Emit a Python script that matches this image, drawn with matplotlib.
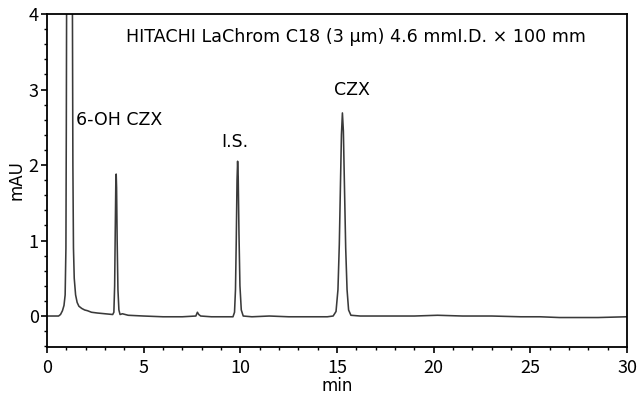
import matplotlib
matplotlib.use("Agg")
import matplotlib.pyplot as plt
from matplotlib.ticker import MultipleLocator

plt.rcParams['font.family'] = ['Noto Sans CJK JP', 'DejaVu Sans']

# Chromatogram trace (time in min, absorbance in mAU)
time_min = [0.0, 0.3, 0.6, 0.7, 0.8, 0.88, 0.94, 0.98, 1.0, 1.02,
            1.31, 1.34, 1.37, 1.41, 1.48, 1.56, 1.65, 1.8, 1.95, 2.1,
            2.3, 2.6, 3.0, 3.4, 3.46, 3.50, 3.53, 3.56, 3.58, 3.60,
            3.63, 3.67, 3.72, 3.78, 3.9, 4.2, 5.0, 6.0, 7.0, 7.7,
            7.78, 7.85, 7.95, 8.5, 9.2, 9.62, 9.70, 9.75, 9.79, 9.83,
            9.86, 9.89, 9.93, 9.98, 10.05, 10.15, 10.6, 11.5, 12.5, 13.5,
            14.5, 14.8, 14.95, 15.05, 15.12, 15.18, 15.23, 15.28, 15.33, 15.38,
            15.45, 15.52, 15.60, 15.72, 16.2, 17.5, 19.0, 20.2, 21.5, 23.0,
            24.5, 25.5, 26.5, 27.5, 28.5, 29.98]
signal_mau = [0.0, 0.0, 0.0, 0.02, 0.07, 0.14, 0.28, 0.9, 2.5, 4.6,
              4.6, 2.0, 0.9, 0.5, 0.28, 0.18, 0.13, 0.1, 0.08, 0.07,
              0.05, 0.04, 0.03, 0.02, 0.05, 0.4, 1.1, 1.75, 1.88, 1.7,
              1.0, 0.35, 0.08, 0.02, 0.03, 0.01, 0.0, -0.01, -0.01, 0.0,
              0.05, 0.02, 0.0, -0.01, -0.01, -0.01, 0.05, 0.35, 1.0, 1.8,
              2.05, 1.85, 1.1, 0.4, 0.08, 0.0, -0.01, 0.0, -0.01, -0.01,
              -0.01, 0.0, 0.06, 0.35, 0.95, 1.75, 2.4, 2.69, 2.45, 1.8,
              0.9, 0.35, 0.08, 0.01, 0.0, 0.0, 0.0, 0.01, 0.0, 0.0,
              -0.01, -0.01, -0.02, -0.02, -0.02, -0.01]

peak_labels = ["6-OH CZX", "I.S.", "CZX"]
peak_label_pos = [(1.5, 2.6), (9.0, 2.3), (14.85, 2.99)]
column_text = "HITACHI LaChrom C18 (3 μm) 4.6 mmI.D. × 100 mm"

fig = plt.figure(figsize=(6.4, 3.97), dpi=100)
ax = fig.add_axes([0.0734, 0.126, 0.9063, 0.8387])

ax.plot(time_min, signal_mau, color='#3a3a3a', linewidth=1.15, clip_on=True)

ax.set_xlim(0, 30)
ax.set_ylim(-0.41, 4.0)
ax.xaxis.set_major_locator(MultipleLocator(5))
ax.xaxis.set_minor_locator(MultipleLocator(1))
ax.yaxis.set_major_locator(MultipleLocator(1))
ax.yaxis.set_minor_locator(MultipleLocator(0.2))
ax.tick_params(which='major', direction='out', length=4, width=1.2, labelsize=13)
ax.tick_params(axis='x', which='major', pad=5)
ax.tick_params(axis='y', which='major', pad=2)
ax.tick_params(which='minor', direction='out', length=2.5, width=1.0)
for s in ax.spines.values():
    s.set_linewidth(1.3)

ax.set_xlabel("min", fontsize=12, labelpad=0, family=['DejaVu Sans'])
ax.set_ylabel("mAU", fontsize=12, labelpad=2, family=['DejaVu Sans'])

for lab, (x, y) in zip(peak_labels, peak_label_pos):
    ax.text(x, y, lab, fontsize=12.5, ha='left', va='center', family=['DejaVu Sans'])

ax.text(0.532, 0.931, column_text, transform=ax.transAxes, fontsize=12.6,
        ha='center', va='center', family=['DejaVu Sans'])

fig.savefig("out.png", dpi=100)
